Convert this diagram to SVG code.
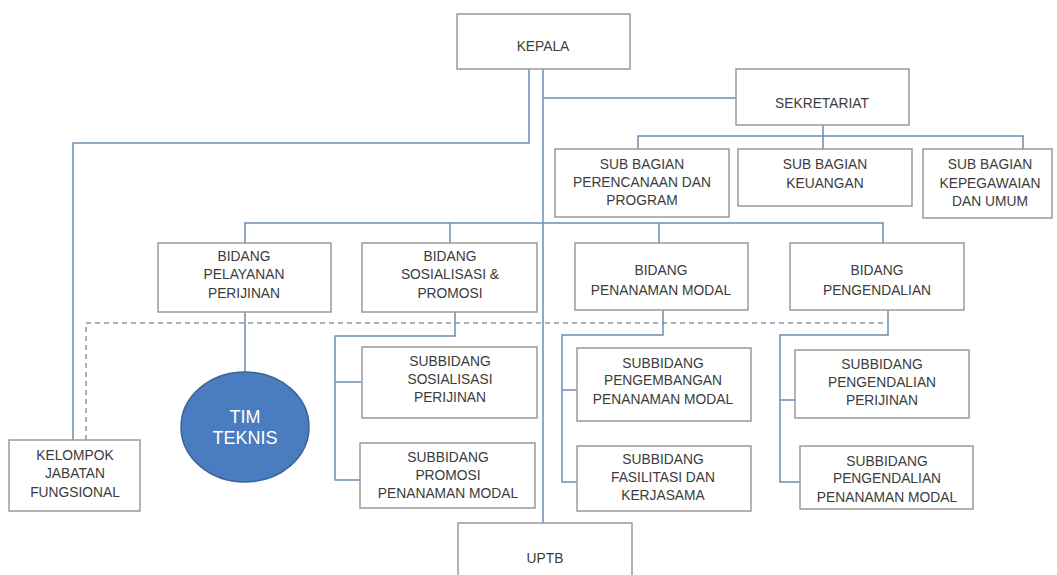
<svg xmlns="http://www.w3.org/2000/svg" width="1057" height="575" viewBox="0 0 1057 575">
<style>
.box{fill:#ffffff;stroke:#9a9a9a;stroke-width:1.5}
.t{font-family:"Liberation Sans",Arial,sans-serif;font-size:13.8px;fill:#3c3c3c;text-anchor:middle}
.c{fill:none;stroke:#6e8db3;stroke-width:1.5}
.d{fill:none;stroke:#8598b0;stroke-width:1.5;stroke-dasharray:5 4}
.w{font-family:"Liberation Sans",Arial,sans-serif;font-size:18px;fill:#ffffff;text-anchor:middle}
</style>
<rect width="1057" height="575" fill="#ffffff"/>
<g id="connectors">
<path class="c" d="M529,69 V143 H73 V440"/>
<path class="c" d="M543,69 V523"/>
<path class="c" d="M543,98 H736"/>
<path class="c" d="M823,125 V149"/>
<path class="c" d="M638,149 V136 H1023 V149"/>
<path class="c" d="M245,243 V223 H883 V243"/>
<path class="c" d="M450,223 V243"/>
<path class="c" d="M659,223 V243"/>
<path class="d" d="M86,440 V323 H887"/>
<path class="c" d="M245,312 V372"/>
<path class="c" d="M455,312 V336 H335 V480 H360"/>
<path class="c" d="M335,382 H362"/>
<path class="c" d="M663,310 V335 H562 V482 H577"/>
<path class="c" d="M562,390 H577"/>
<path class="c" d="M888,310 V335 H780 V482 H800"/>
<path class="c" d="M780,400 H795"/>
</g>
<g id="kepala"><rect class="box" x="457" y="14" width="173" height="55"/><text class="t" x="543" y="51">KEPALA</text></g>
<g id="sekretariat"><rect class="box" x="736" y="69" width="173" height="56"/><text class="t" x="822" y="108">SEKRETARIAT</text></g>
<g id="sub-perencanaan"><rect class="box" x="555" y="149" width="174" height="68"/><text class="t" x="642" y="169">SUB BAGIAN</text><text class="t" x="642" y="187">PERENCANAAN DAN</text><text class="t" x="642" y="205">PROGRAM</text></g>
<g id="sub-keuangan"><rect class="box" x="738" y="149" width="174" height="57"/><text class="t" x="825" y="169">SUB BAGIAN</text><text class="t" x="825" y="188">KEUANGAN</text></g>
<g id="sub-kepegawaian"><rect class="box" x="923" y="149" width="129" height="69"/><text class="t" x="990" y="169">SUB BAGIAN</text><text class="t" x="990" y="188">KEPEGAWAIAN</text><text class="t" x="990" y="206">DAN UMUM</text></g>
<g id="bidang-pelayanan"><rect class="box" x="158" y="243" width="173" height="69"/><text class="t" x="244" y="261">BIDANG</text><text class="t" x="244" y="279">PELAYANAN</text><text class="t" x="244" y="298">PERIJINAN</text></g>
<g id="bidang-sosialisasi"><rect class="box" x="362" y="243" width="175" height="69"/><text class="t" x="450" y="261">BIDANG</text><text class="t" x="450" y="279">SOSIALISASI &amp;</text><text class="t" x="450" y="298">PROMOSI</text></g>
<g id="bidang-penanaman"><rect class="box" x="575" y="243" width="173" height="67"/><text class="t" x="661" y="275">BIDANG</text><text class="t" x="661" y="295">PENANAMAN MODAL</text></g>
<g id="bidang-pengendalian"><rect class="box" x="790" y="243" width="174" height="67"/><text class="t" x="877" y="275">BIDANG</text><text class="t" x="877" y="295">PENGENDALIAN</text></g>
<g id="tim-teknis"><ellipse cx="245" cy="427" rx="64" ry="55" fill="#4a7cc0" stroke="#3b6496" stroke-width="1.5"/><text class="w" x="245" y="423">TIM</text><text class="w" x="245" y="444">TEKNIS</text></g>
<g id="kelompok"><rect class="box" x="9" y="440" width="131" height="71"/><text class="t" x="75" y="460">KELOMPOK</text><text class="t" x="75" y="478">JABATAN</text><text class="t" x="75" y="497">FUNGSIONAL</text></g>
<g id="sub-sosialisasi"><rect class="box" x="362" y="347" width="175" height="71"/><text class="t" x="450" y="366">SUBBIDANG</text><text class="t" x="450" y="384">SOSIALISASI</text><text class="t" x="450" y="402">PERIJINAN</text></g>
<g id="sub-promosi"><rect class="box" x="360" y="443" width="175" height="65"/><text class="t" x="448" y="462">SUBBIDANG</text><text class="t" x="448" y="480">PROMOSI</text><text class="t" x="448" y="498">PENANAMAN MODAL</text></g>
<g id="sub-pengembangan"><rect class="box" x="577" y="348" width="174" height="73"/><text class="t" x="663" y="368">SUBBIDANG</text><text class="t" x="663" y="385">PENGEMBANGAN</text><text class="t" x="663" y="404">PENANAMAN MODAL</text></g>
<g id="sub-fasilitasi"><rect class="box" x="577" y="446" width="174" height="65"/><text class="t" x="663" y="464">SUBBIDANG</text><text class="t" x="663" y="482">FASILITASI DAN</text><text class="t" x="663" y="500">KERJASAMA</text></g>
<g id="sub-pengendalian-perijinan"><rect class="box" x="795" y="350" width="174" height="68"/><text class="t" x="882" y="369">SUBBIDANG</text><text class="t" x="882" y="387">PENGENDALIAN</text><text class="t" x="882" y="405">PERIJINAN</text></g>
<g id="sub-pengendalian-pm"><rect class="box" x="800" y="446" width="173" height="63"/><text class="t" x="887" y="466">SUBBIDANG</text><text class="t" x="887" y="483">PENGENDALIAN</text><text class="t" x="887" y="502">PENANAMAN MODAL</text></g>
<g id="uptb"><rect class="box" x="458" y="523" width="174" height="60"/><text class="t" x="545" y="563">UPTB</text></g>
</svg>
